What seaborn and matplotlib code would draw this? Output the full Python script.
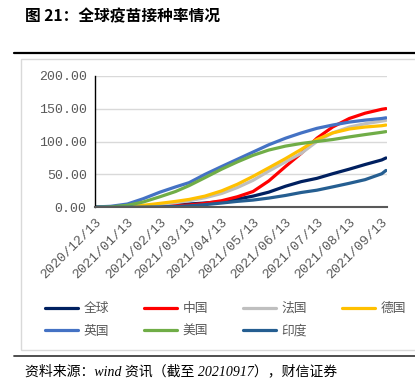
import matplotlib
matplotlib.use("Agg")
import matplotlib.pyplot as plt
from matplotlib.lines import Line2D
from matplotlib.patches import Rectangle
from matplotlib.ticker import FuncFormatter
import seaborn as sns
import pandas as pd

# ---------------- data ----------------
dates = ["2020-12-13", "2020-12-28", "2021-01-13", "2021-01-28", "2021-02-13",
         "2021-02-28", "2021-03-13", "2021-03-28", "2021-04-13", "2021-04-28",
         "2021-05-13", "2021-05-28", "2021-06-13", "2021-06-28", "2021-07-13",
         "2021-07-28", "2021-08-13", "2021-08-28", "2021-09-13", "2021-09-17"]

series_names = ["全球", "中国", "法国", "德国", "英国", "美国", "印度"]

global_vals = [0, 0.2, 0.5, 1.2, 2.2, 3.5, 5, 6.5, 8.6, 12.5,
               17, 23, 32, 39, 44, 51, 58, 65, 72, 75]
china_vals = [0, 0.2, 0.5, 1.2, 2, 2.8, 3.5, 6, 10, 16,
              24, 40, 62, 82, 105, 122, 135, 143, 149, 150]
france_vals = [0, 0, 0.5, 2, 4.5, 7, 10, 14.5, 21, 30,
               41, 55, 69, 82, 100, 113, 122, 127, 131, 132]
germany_vals = [0, 0.1, 1, 3, 6, 9, 12, 17, 25, 35,
                47, 60, 74, 88, 103, 113, 119, 122, 124, 125]
uk_vals = [0.5, 1.5, 5, 13, 23, 31, 37.5, 50, 62, 73,
           84, 95, 105, 113, 120, 125, 129.5, 132.5, 135, 136]
us_vals = [0, 0.7, 3, 8, 16, 24, 33, 45, 58, 69,
           79, 87, 93, 97, 100, 103, 107, 110.5, 114, 115]
india_vals = [0, 0, 0, 0.3, 0.6, 1.2, 2.2, 4, 6.5, 9,
              11, 14, 18, 22.5, 26, 31, 36.5, 42, 51, 56]

tick_labels = ["2020/12/13", "2021/01/13", "2021/02/13", "2021/03/13", "2021/04/13",
               "2021/05/13", "2021/06/13", "2021/07/13", "2021/08/13", "2021/09/13"]
y_ticks = [0, 50, 100, 150, 200]

colors = ["#002060", "#FF0000", "#BFBFBF", "#FFC000", "#4472C4", "#70AD47", "#255E91"]

title_text = "图 21：全球疫苗接种率情况"
source_text = "资料来源：wind 资讯（截至 20210917），财信证券"

# ---------------- build table ----------------
all_vals = [global_vals, china_vals, france_vals, germany_vals, uk_vals, us_vals, india_vals]
rows = []
for name, vals in zip(series_names, all_vals):
    for d, v in zip(dates, vals):
        rows.append({"date": pd.Timestamp(d), "value": v, "series": name})
df = pd.DataFrame(rows)

# ---------------- figure ----------------
sns.set_theme(style="white")
plt.rcParams["font.family"] = ["Noto Sans CJK SC", "DejaVu Sans"]

W, H = 415, 392
fig = plt.figure(figsize=(W / 100, H / 100), dpi=100)
ax = fig.add_axes([95 / W, 1 - 207.3 / H, (386.5 - 95) / W, (207.3 - 75.7) / H])

sns.lineplot(data=df, x="date", y="value", hue="series", hue_order=series_names,
             palette=colors, linewidth=2.3, ax=ax, legend=False)

ax.set_ylim(0, 200)
ax.set_xlim(pd.Timestamp("2020-12-13"), pd.Timestamp("2021-09-17 12:00"))
ax.set_yticks(y_ticks)
ax.yaxis.set_major_formatter(FuncFormatter(lambda v, p: f"{v:.2f}"))
ax.set_xticks([pd.Timestamp(t.replace("/", "-")) for t in tick_labels])
ax.set_xticklabels(tick_labels)
ax.set_xlabel("")
ax.set_ylabel("")

ax.grid(axis="y", color="#D9D9D9", linewidth=1.0)
ax.set_axisbelow(True)
for s in ["top", "right"]:
    ax.spines[s].set_visible(False)
ax.spines["left"].set_color("#000000")
ax.spines["left"].set_linewidth(1.0)
ax.spines["bottom"].set_color("#595959")
ax.spines["bottom"].set_linewidth(1.5)

ax.tick_params(axis="both", which="major", direction="out", length=4, width=1,
               colors="#595959", labelcolor="#595959", pad=2)
ax.tick_params(axis="y", color="#000000")
for lab in ax.get_yticklabels():
    lab.set_fontfamily("Liberation Mono")
    lab.set_fontsize(9.5)
for lab in ax.get_xticklabels():
    lab.set_fontfamily("Liberation Mono")
    lab.set_fontsize(9.5)
    lab.set_rotation(45)
    lab.set_ha("right")
    lab.set_va("top")
    lab.set_rotation_mode("anchor")

# legend (row-wise order: matplotlib fills columns first)
order = [0, 4, 1, 5, 2, 6, 3]
handles = [Line2D([0], [0], color=colors[i], linewidth=2.3) for i in order]
labels = [series_names[i] for i in order]
leg = ax.legend(handles, labels, ncol=4, loc="upper left",
                bbox_to_anchor=(45 / W, 1 - 302 / H), bbox_transform=fig.transFigure,
                frameon=False, fontsize=9.2, handlelength=2.6, handletextpad=0.4,
                columnspacing=2.75, labelspacing=0.75, borderpad=0, borderaxespad=0)
for t in leg.get_texts():
    t.set_color("#595959")

# decorations
fig.text(25 / W, 1 - 16 / H, title_text, fontsize=11.3, fontweight="bold",
         ha="left", va="center", color="#000000")
fig.add_artist(Line2D([14 / W, 1], [1 - 52.7 / H] * 2, color="#000000", linewidth=1.6))
fig.add_artist(Rectangle((21 / W, 1 - 350 / H), 1.0, (350 - 58.5) / H,
                         transform=fig.transFigure, fill=False,
                         edgecolor="#D9D9D9", linewidth=1.0))
fig.add_artist(Line2D([14 / W, 1], [1 - 355.7 / H] * 2, color="#404040", linewidth=1.3))
fig.text(25 / W, 1 - 371 / H, source_text, fontsize=10, style="italic",
         family=["Liberation Serif", "Noto Sans CJK SC"], ha="left", va="center",
         color="#000000")

fig.savefig("out.png", dpi=100)
